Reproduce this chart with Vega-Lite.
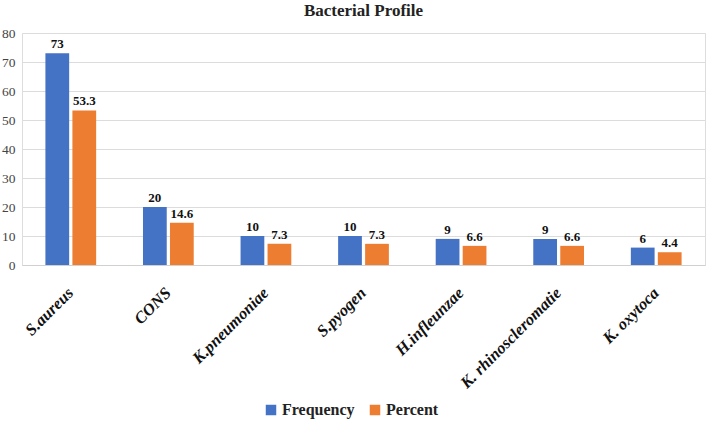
{
  "$schema": "https://vega.github.io/schema/vega-lite/v6.json",
  "autosize": "none",
  "padding": {"left": 22, "top": 33, "right": 3, "bottom": 161},
  "width": 683,
  "height": 232,
  "background": "white",
  "title": {
    "text": "Bacterial Profile",
    "font": "Liberation Serif",
    "fontSize": 17,
    "fontWeight": "bold",
    "color": "#222222",
    "anchor": "middle",
    "offset": 6
  },
  "data": {
    "values": [
      {"organism": "S.aureus", "series": "Frequency", "value": 73},
      {"organism": "S.aureus", "series": "Percent", "value": 53.3},
      {"organism": "CONS", "series": "Frequency", "value": 20},
      {"organism": "CONS", "series": "Percent", "value": 14.6},
      {"organism": "K.pneumoniae", "series": "Frequency", "value": 10},
      {"organism": "K.pneumoniae", "series": "Percent", "value": 7.3},
      {"organism": "S.pyogen", "series": "Frequency", "value": 10},
      {"organism": "S.pyogen", "series": "Percent", "value": 7.3},
      {"organism": "H.infleunzae", "series": "Frequency", "value": 9},
      {"organism": "H.infleunzae", "series": "Percent", "value": 6.6},
      {"organism": "K. rhinoscleromatie", "series": "Frequency", "value": 9},
      {"organism": "K. rhinoscleromatie", "series": "Percent", "value": 6.6},
      {"organism": "K. oxytoca", "series": "Frequency", "value": 6},
      {"organism": "K. oxytoca", "series": "Percent", "value": 4.4}
    ]
  },
  "encoding": {
    "x": {
      "field": "organism",
      "type": "nominal",
      "sort": null,
      "scale": {"paddingInner": 0.48, "paddingOuter": 0.24},
      "axis": {
        "title": null,
        "labelAngle": -45,
        "labelAlign": "right",
        "labelBaseline": "middle",
        "labelFont": "Liberation Serif",
        "labelFontSize": 16.5,
        "labelFontWeight": "bold",
        "labelFontStyle": "italic",
        "labelColor": "#111111",
        "labelPadding": 25,
        "ticks": false,
        "domainColor": "#d0d0d0",
        "grid": false
      }
    },
    "xOffset": {
      "field": "series",
      "type": "nominal",
      "scale": {"paddingInner": 0.12}
    },
    "y": {
      "field": "value",
      "type": "quantitative",
      "scale": {"domain": [0, 80]},
      "axis": {
        "title": null,
        "values": [0, 10, 20, 30, 40, 50, 60, 70, 80],
        "labelFont": "Liberation Serif",
        "labelFontSize": 13.5,
        "labelColor": "#444444",
        "labelPadding": 7,
        "domain": false,
        "ticks": false,
        "gridColor": "#dcdcdc"
      }
    }
  },
  "layer": [
    {
      "mark": {"type": "bar"},
      "encoding": {
        "color": {
          "field": "series",
          "type": "nominal",
          "scale": {"domain": ["Frequency", "Percent"], "range": ["#4472C4", "#ED7D31"]},
          "legend": {
            "title": null,
            "orient": "none",
            "direction": "horizontal",
            "legendX": 241,
            "legendY": 369,
            "symbolType": "square",
            "symbolSize": 110,
            "symbolStrokeWidth": 0,
            "labelFont": "Liberation Serif",
            "labelFontSize": 16,
            "labelFontWeight": "bold",
            "labelColor": "#222222",
            "labelOffset": 3,
            "columnPadding": 12
          }
        }
      }
    },
    {
      "mark": {
        "type": "text",
        "dy": -9,
        "font": "Liberation Serif",
        "fontSize": 13,
        "fontWeight": "bold",
        "color": "#111111"
      },
      "encoding": {
        "text": {"field": "value", "type": "quantitative"}
      }
    }
  ]
}
